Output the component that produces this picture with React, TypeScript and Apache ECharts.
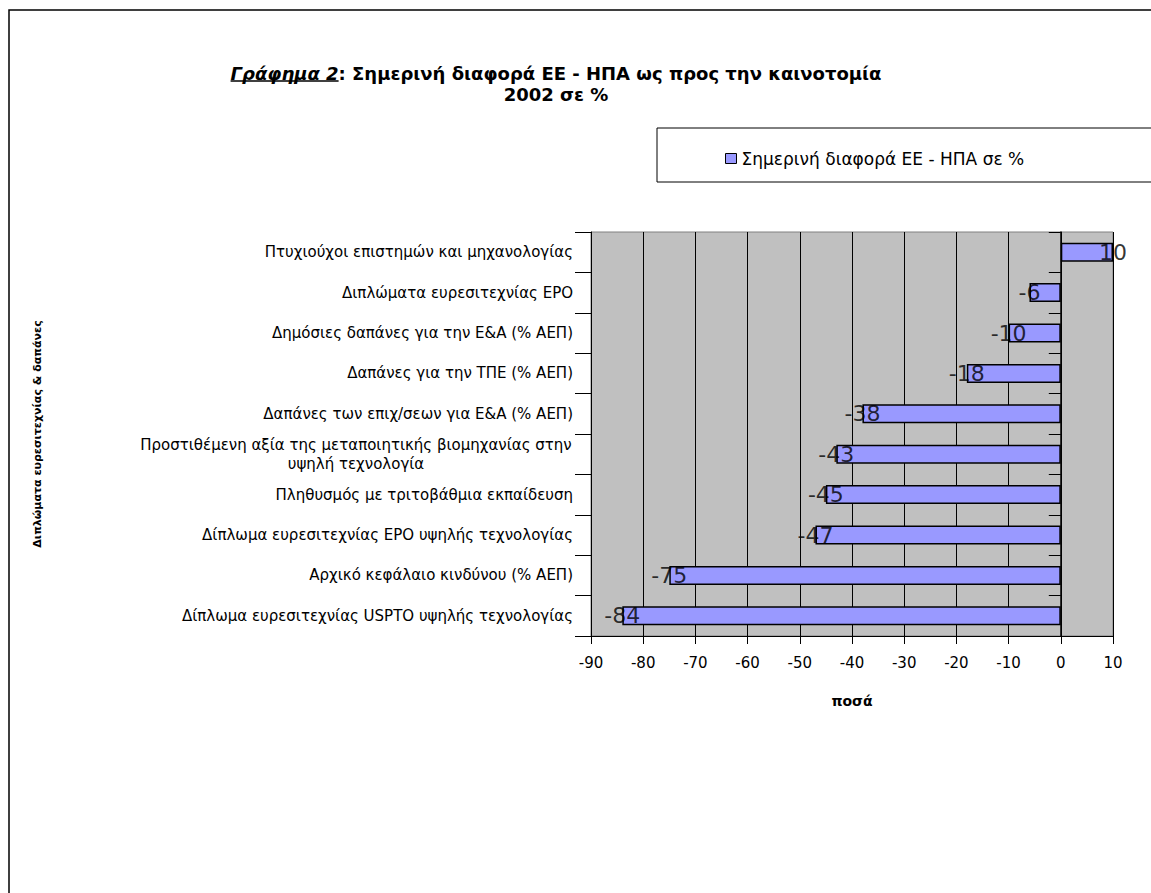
import React, { useEffect, useRef } from "react";
import * as echarts from "echarts";

const categories = [
  "Δίπλωμα ευρεσιτεχνίας USPTO υψηλής τεχνολογίας",
  "Αρχικό κεφάλαιο κινδύνου (% ΑΕΠ)",
  "Δίπλωμα ευρεσιτεχνίας EPO υψηλής τεχνολογίας",
  "Πληθυσμός με τριτοβάθμια εκπαίδευση",
  "Προστιθέμενη αξία της μεταποιητικής βιομηχανίας στην\nυψηλή τεχνολογία",
  "Δαπάνες των επιχ/σεων για Ε&Α (% ΑΕΠ)",
  "Δαπάνες για την ΤΠΕ (% ΑΕΠ)",
  "Δημόσιες δαπάνες για την Ε&Α (% ΑΕΠ)",
  "Διπλώματα ευρεσιτεχνίας EPO",
  "Πτυχιούχοι επιστημών και μηχανολογίας",
];
const values = [-84, -75, -47, -45, -43, -38, -18, -10, -6, 10];
const seriesName = "Σημερινή διαφορά ΕΕ - ΗΠΑ σε %";
const titleLead = "Γράφημα 2";
const titleRest = ": Σημερινή διαφορά ΕΕ - ΗΠΑ ως προς την καινοτομία";
const titleLine2 = "2002 σε %";
const xAxisName = "ποσά";
const yAxisName = "Διπλώματα ευρεσιτεχνίας & δαπάνες";

const FONT = "DejaVu Sans";
const CAT_SIZE = 15;
const TITLE_SIZE = 18;
const TITLE_CX = 556;
const TITLE_TOP = 63;
const TITLE_LH = 21;

function measure(text: string, size: number, weight = "normal", style = "normal") {
  const c = document.createElement("canvas");
  const ctx = c.getContext("2d");
  if (!ctx) return text.length * size * 0.6;
  ctx.font = `${style} ${weight} ${size}px "${FONT}"`;
  return ctx.measureText(text).width;
}

export default function App() {
  const ref = useRef<HTMLDivElement>(null);
  useEffect(() => {
    if (!ref.current) return;
    const chart = echarts.init(ref.current, null, { renderer: "svg" });
    let longest = 0;
    categories.forEach((c) => {
      if (c.includes("\n")) {
        c.split("\n").forEach((l) => (longest = Math.max(longest, measure(l, CAT_SIZE))));
      }
    });
    const catW = Math.ceil(longest) + 2;

    const leadW = measure(titleLead, TITLE_SIZE, "bold", "italic");
    const restW = measure(titleRest, TITLE_SIZE, "bold");
    const line1Left = TITLE_CX - (leadW + restW) / 2;
    const underlineY = TITLE_TOP + TITLE_LH / 2 + TITLE_SIZE * 0.42;

    chart.setOption({
      animation: false,
      backgroundColor: "#ffffff",
      textStyle: { fontFamily: FONT },
      title: {
        text: `{u|${titleLead}}{b|${titleRest}}\n{b|${titleLine2}}`,
        left: TITLE_CX,
        top: TITLE_TOP,
        padding: 0,
        textAlign: "center",
        textStyle: {
          rich: {
            u: {
              fontFamily: FONT,
              fontSize: TITLE_SIZE,
              fontWeight: "bold",
              fontStyle: "italic",
              color: "#000",
              lineHeight: TITLE_LH,
            },
            b: {
              fontFamily: FONT,
              fontSize: TITLE_SIZE,
              fontWeight: "bold",
              color: "#000",
              lineHeight: TITLE_LH,
            },
          },
        },
      },
      legend: {
        show: true,
        left: 720,
        top: 145,
        itemWidth: 11,
        itemHeight: 10,
        itemGap: 4,
        icon: "rect",
        textStyle: { fontFamily: FONT, fontSize: 17, color: "#000" },
        itemStyle: { borderColor: "#000", borderWidth: 1 },
        data: [seriesName],
      },
      graphic: [
        {
          type: "rect",
          shape: { x: 9, y: 10, width: 1300, height: 1000 },
          style: { fill: "none", stroke: "#000", lineWidth: 1.5 },
          silent: true,
          z: -1,
        },
        {
          type: "rect",
          shape: { x: 657, y: 128, width: 600, height: 54 },
          style: { fill: "none", stroke: "#000", lineWidth: 1 },
          silent: true,
        },
        {
          type: "line",
          shape: { x1: line1Left, y1: underlineY, x2: line1Left + leadW, y2: underlineY },
          style: { stroke: "#000", lineWidth: 1.5 },
          silent: true,
        },
      ],
      grid: {
        left: 591,
        top: 232,
        right: 38,
        bottom: 257,
        show: true,
        backgroundColor: "#C0C0C0",
        borderColor: "#808080",
        borderWidth: 1,
      },
      xAxis: {
        type: "value",
        min: -90,
        max: 10,
        interval: 10,
        name: xAxisName,
        nameLocation: "middle",
        nameGap: 58,
        nameTextStyle: { fontFamily: FONT, fontSize: 14, fontWeight: "bold", color: "#000" },
        axisLine: { show: true, onZero: false, lineStyle: { color: "#000", width: 1 } },
        axisTick: { show: true, length: 8, lineStyle: { color: "#000" } },
        axisLabel: { fontFamily: FONT, fontSize: 15, color: "#000", margin: 19 },
        splitLine: { show: true, lineStyle: { color: "#000", width: 1 } },
      },
      yAxis: [
        {
          type: "category",
          data: categories,
          position: "left",
          name: yAxisName,
          nameLocation: "middle",
          nameGap: 548,
          nameRotate: 90,
          nameTextStyle: { fontFamily: FONT, fontSize: 11, fontWeight: "bold", color: "#000" },
          axisLine: { show: true, onZero: false, lineStyle: { color: "#000", width: 1 } },
          axisTick: { show: true, length: 16, lineStyle: { color: "#000" } },
          axisLabel: {
            fontFamily: FONT,
            fontSize: CAT_SIZE,
            color: "#000",
            margin: 18,
            lineHeight: 19,
            formatter: (v: string) =>
              v.includes("\n") ? v.split("\n").map((s) => `{c|${s}}`).join("\n") : v,
            rich: {
              c: {
                fontFamily: FONT,
                fontSize: CAT_SIZE,
                color: "#000",
                width: catW,
                align: "center",
                lineHeight: 19,
              },
            },
          },
          splitLine: { show: false },
        },
        {
          type: "category",
          data: categories,
          position: "left",
          axisLine: { show: true, onZero: true, lineStyle: { color: "#000", width: 1.5 } },
          axisTick: { show: true, length: 12, lineStyle: { color: "#000" } },
          axisLabel: { show: false },
          splitLine: { show: false },
        },
      ],
      series: [
        {
          name: seriesName,
          type: "bar",
          yAxisIndex: 0,
          data: values,
          barWidth: "47%",
          itemStyle: { color: "#9999FF", borderColor: "#000", borderWidth: 1.5 },
          z: 3,
        },
        {
          name: "labels",
          type: "scatter",
          yAxisIndex: 0,
          data: values.map((v, i) => [v, i]),
          symbolSize: 0,
          silent: true,
          label: {
            show: true,
            position: "inside",
            formatter: (p: any) => String(p.value[0]),
            fontFamily: FONT,
            fontSize: 22,
            color: "#000",
          },
          z: 5,
        },
      ],
    });
    return () => chart.dispose();
  }, []);
  return (
    <div
      ref={ref}
      style={{ position: "fixed", left: 0, top: 0, width: 1151, height: 893 }}
    />
  );
}
